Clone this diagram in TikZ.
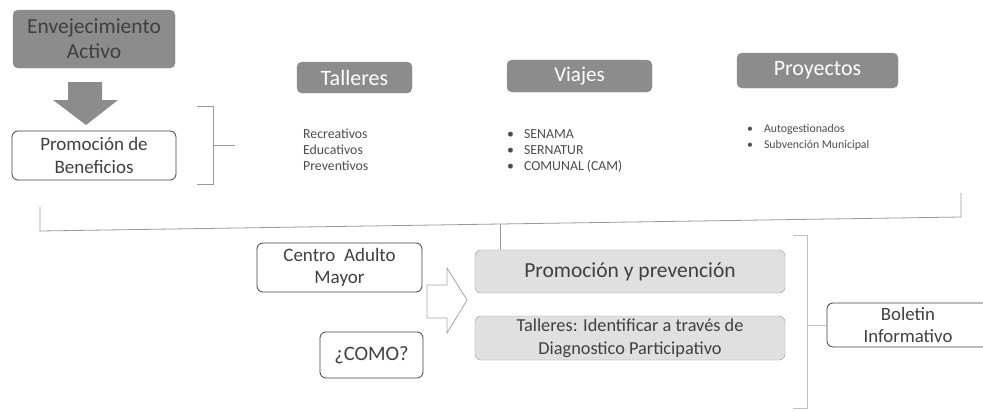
\documentclass[tikz,border=0pt]{standalone}
\usepackage{fontspec}
\setmainfont{Carlito}
\usepackage{tikz}
\usetikzlibrary{positioning}

\begin{document}
\begin{tikzpicture}[x=1pt, y=-1pt]
\tikzstyle{oscuro}=[draw=black!45, fill=black!45, rounded corners=5pt,
                        inner sep=2pt, align=center, text=white] ;
\tikzstyle{blanco}=[draw=black!75, thick, fill=white, rounded corners=6pt,
                        inner sep=2pt, align=center, text=black!75] ;
\tikzstyle{claro}=[draw=black!40, fill=black!12, rounded corners=6pt,
                        inner sep=2pt, align=center, text=black!75] ;
\tikzstyle{lista}=[anchor=north west, align=left, inner sep=0pt, text=black!70];
\tikzstyle{raya}=[draw=black!40, line width=0.8pt];
\useasboundingbox (0,0) rectangle (983,410);
%cabeceras
\node[oscuro, minimum width=162, minimum height=58, text=black!75,
      font=\fontsize{21.5}{25}\selectfont] (env) at (94,39) {Envejecimiento\\Activo};
\node[oscuro, minimum width=115, minimum height=31,
      font=\fontsize{22}{24}\selectfont] (tal) at (354.5,77.5) {Talleres};
\node[oscuro, minimum width=145, minimum height=32,
      font=\fontsize{21}{24}\selectfont] (via) at (579.5,76) {Viajes};
\node[oscuro, minimum width=161, minimum height=35,
      font=\fontsize{22}{24}\selectfont] (pro) at (817.5,70.5) {Proyectos};
% listas
\node[lista, font=\fontsize{13.8}{16}\selectfont] (ltal) at (303,129) {Recreativos\\Educativos\\Preventivos};
\node[lista, font=\fontsize{13.8}{16}\selectfont] (lvia) at (507,129)
     {\textbullet\hspace{10pt}SENAMA\\\textbullet\hspace{10pt}SERNATUR\\\textbullet\hspace{10pt}COMUNAL (CAM)};
\node[lista, font=\fontsize{11.8}{16}\selectfont] (lpro) at (747,124)
     {\textbullet\hspace{11pt}Autogestionados\\\textbullet\hspace{11pt}Subvención Municipal};
% flecha abajo
\fill[black!45] (68,82) -- (102,82) -- (102,100) -- (118,100) -- (86,125)
   -- (53,100) -- (68,100) -- cycle;
\node[blanco, minimum width=164, minimum height=49,
      font=\fontsize{19}{23}\selectfont] (ben) at (94,155.5) {Promoción de\\Beneficios};
% llaves
\draw[raya] (197,106) -- (213,106) -- (213,184) -- (197,184);
\coordinate (b1) at (213,145);
\coordinate (b2) at (235,145);
\draw[raya] (b1) -- (b2);
\coordinate (m) at (500,224);
\draw[raya] (40,207) -- (40,231) -- (m) -- (961,217) -- (961,193);
% abajo
\node[blanco, minimum width=165, minimum height=49,
      font=\fontsize{19}{22}\selectfont] (cam) at (339.5,267.5) {Centro\ \ Adulto\\Mayor};
\node[blanco, minimum width=103, minimum height=46,
      font=\fontsize{20.5}{22}\selectfont] (como) at (371.5,355) {¿COMO?};
\draw[draw=black!35, line width=0.8pt, fill=white] (427,285) -- (447,285) -- (447,268)
   -- (467,300) -- (447,333) -- (447,318) -- (427,318) -- cycle;
\node[claro, minimum width=310, minimum height=43,
      font=\fontsize{21.5}{24}\selectfont] (pyp) at (630,271.5) {Promoción y prevención};
\node[claro, minimum width=310, minimum height=44,
      font=\fontsize{18.3}{23}\selectfont] (diag) at (630,338)
      {Talleres: Identificar a través de\\Diagnostico Participativo};
\draw[raya] (m) -- (m |- pyp.north);
\node[blanco, minimum width=162, minimum height=44,
      font=\fontsize{18.8}{21.5}\selectfont] (bol) at (908,325) {Boletin\\Informativo};
\draw[draw=black!25, line width=0.8pt] (793,235) -- (807,235) -- (807,408) -- (793,408);
\coordinate (r1) at (807,325);
\draw[draw=black!25, line width=0.8pt] (r1) -- (bol.west);
\end{tikzpicture}
\end{document}
